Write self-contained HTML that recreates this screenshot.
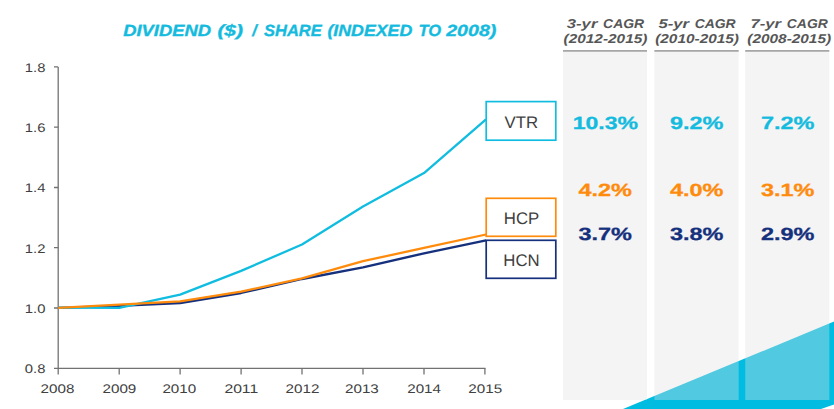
<!DOCTYPE html>
<html><head><meta charset="utf-8">
<style>
html,body{margin:0;padding:0;background:#fff;}
body{width:834px;height:409px;overflow:hidden;font-family:"Liberation Sans",sans-serif;}
svg{display:block;}
text{font-family:"Liberation Sans",sans-serif;text-rendering:geometricPrecision;}
</style></head><body>
<svg width="834" height="409" viewBox="0 0 834 409">
<rect width="834" height="409" fill="#fff"/>
<!-- triangle -->
<polygon points="623,409 834,321.6 834,404.6 821,409" fill="#00bce1"/>
<!-- columns -->
<g fill="#e0e0e0" fill-opacity="0.357">
<rect x="563" y="51" width="84" height="349"/>
<rect x="654.4" y="51" width="84.3" height="349"/>
<rect x="745.2" y="51" width="84.1" height="349"/>
</g>
<g stroke="#a6a6a6" stroke-width="1.8">
<line x1="563" y1="50.8" x2="647" y2="50.8"/>
<line x1="654.4" y1="50.8" x2="738.7" y2="50.8"/>
<line x1="745.2" y1="50.8" x2="829.3" y2="50.8"/>
</g>
<!-- title -->
<g font-size="16.2" font-weight="bold" font-style="italic" fill="#14bbde" stroke="#14bbde" stroke-width="0.35">
<text x="123.2" y="36" textLength="87.8" lengthAdjust="spacingAndGlyphs">DIVIDEND</text>
<text x="217.4" y="36" textLength="25.6" lengthAdjust="spacingAndGlyphs">($)</text>
<text x="252.3" y="36">/</text>
<text x="264.0" y="36" textLength="57.8" lengthAdjust="spacingAndGlyphs">SHARE</text>
<text x="327.4" y="36" textLength="84.9" lengthAdjust="spacingAndGlyphs">(INDEXED</text>
<text x="418.6" y="36" textLength="22.6" lengthAdjust="spacingAndGlyphs">TO</text>
<text x="446.2" y="36" textLength="50.2" lengthAdjust="spacingAndGlyphs">2008)</text>
</g>
<!-- headers -->
<g font-size="12.8" font-weight="bold" font-style="italic" fill="#565656">
<text x="566.8" y="28" textLength="30.6" lengthAdjust="spacingAndGlyphs">3-yr</text>
<text x="603.1" y="28" textLength="41" lengthAdjust="spacingAndGlyphs">CAGR</text>
<text x="563.6" y="42.8" textLength="83.8" lengthAdjust="spacingAndGlyphs">(2012-2015)</text>
<text x="658.4" y="28" textLength="30.6" lengthAdjust="spacingAndGlyphs">5-yr</text>
<text x="694.7" y="28" textLength="41" lengthAdjust="spacingAndGlyphs">CAGR</text>
<text x="655.2" y="42.8" textLength="83.8" lengthAdjust="spacingAndGlyphs">(2010-2015)</text>
<text x="750.5" y="28" textLength="30.6" lengthAdjust="spacingAndGlyphs">7-yr</text>
<text x="786.8" y="28" textLength="41" lengthAdjust="spacingAndGlyphs">CAGR</text>
<text x="747.3" y="42.8" textLength="83.8" lengthAdjust="spacingAndGlyphs">(2008-2015)</text>
</g>
<!-- axes -->
<g stroke="#727272" stroke-width="1.3" fill="none">
<path d="M58.2,66.9 V368.3 H485.5"/>
<path d="M54,66.9H58.2 M54,127.2H58.2 M54,187.5H58.2 M54,247.7H58.2 M54,308.0H58.2 M54,368.3H58.2"/>
<path d="M58.2,368.3V374.5 M119.2,368.3V374.5 M180.1,368.3V374.5 M241.1,368.3V374.5 M302.0,368.3V374.5 M363.0,368.3V374.5 M424.0,368.3V374.5 M484.9,368.3V374.5"/>
</g>
<!-- y labels -->
<g font-size="12.5" fill="#404040">
<text x="24.8" y="72" textLength="20.6" lengthAdjust="spacingAndGlyphs">1.8</text>
<text x="24.8" y="132.2" textLength="20.6" lengthAdjust="spacingAndGlyphs">1.6</text>
<text x="24.8" y="192.4" textLength="20.6" lengthAdjust="spacingAndGlyphs">1.4</text>
<text x="24.8" y="252.6" textLength="20.6" lengthAdjust="spacingAndGlyphs">1.2</text>
<text x="24.8" y="312.8" textLength="20.6" lengthAdjust="spacingAndGlyphs">1.0</text>
<text x="24.8" y="373" textLength="20.6" lengthAdjust="spacingAndGlyphs">0.8</text>
</g>
<!-- x labels -->
<g font-size="12.5" fill="#404040">
<text x="40.6" y="392.7" textLength="33.8" lengthAdjust="spacingAndGlyphs">2008</text>
<text x="102.5" y="392.7" textLength="33.8" lengthAdjust="spacingAndGlyphs">2009</text>
<text x="162.4" y="392.7" textLength="33.8" lengthAdjust="spacingAndGlyphs">2010</text>
<text x="224.4" y="392.7" textLength="33.8" lengthAdjust="spacingAndGlyphs">2011</text>
<text x="285.6" y="392.7" textLength="33.8" lengthAdjust="spacingAndGlyphs">2012</text>
<text x="345.0" y="392.7" textLength="33.8" lengthAdjust="spacingAndGlyphs">2013</text>
<text x="407.2" y="392.7" textLength="33.8" lengthAdjust="spacingAndGlyphs">2014</text>
<text x="468.3" y="392.7" textLength="33.8" lengthAdjust="spacingAndGlyphs">2015</text>
</g>
<!-- lines -->
<g fill="none" stroke-width="2.3" stroke-linejoin="round" stroke-linecap="butt">
<polyline stroke="#15307c" points="58.2,307.8 119.2,305.8 180.1,303 241.1,293 302.0,279 363.0,267.3 424.0,253.3 486,240.4"/>
<polyline stroke="#10bde0" points="58.2,307.6 119.2,307.9 180.1,294.6 241.1,270.9 302.0,244.5 363.0,206.6 424.0,173.1 486,119.4"/>
<polyline stroke="#ff8b0d" points="58.2,307.8 119.2,304.6 180.1,301.3 241.1,291.7 302.0,278.3 363.0,261.2 424.0,247.9 486,234.5"/>
</g>
<!-- boxes -->
<g fill="#fff" stroke-width="1.7">
<rect x="486.2" y="101.6" width="69.6" height="38.6" stroke="#10bde0"/>
<rect x="486.2" y="198.3" width="69.6" height="38" stroke="#ff8b0d"/>
<rect x="486.2" y="240.3" width="69.6" height="38" stroke="#15307c"/>
</g>
<g font-size="16.8" fill="#404040" text-anchor="middle">
<text x="521.3" y="127.8">VTR</text>
<text x="521.5" y="223.8">HCP</text>
<text x="521.5" y="265.9">HCN</text>
</g>
<!-- values -->
<g font-size="17.7" font-weight="bold">
<g fill="#14bbde" stroke="#14bbde" stroke-width="0.3">
<text x="572.7" y="128.5" textLength="65.4" lengthAdjust="spacingAndGlyphs">10.3%</text>
<text x="670" y="128.5" textLength="53.5" lengthAdjust="spacingAndGlyphs">9.2%</text>
<text x="761" y="128.5" textLength="53.5" lengthAdjust="spacingAndGlyphs">7.2%</text>
</g>
<g fill="#ff8b0d" stroke="#ff8b0d" stroke-width="0.3">
<text x="578.5" y="196.4" textLength="53.5" lengthAdjust="spacingAndGlyphs">4.2%</text>
<text x="670" y="196.4" textLength="53.5" lengthAdjust="spacingAndGlyphs">4.0%</text>
<text x="761" y="196.4" textLength="53.5" lengthAdjust="spacingAndGlyphs">3.1%</text>
</g>
<g fill="#15307c" stroke="#15307c" stroke-width="0.3">
<text x="578.5" y="240.2" textLength="53.5" lengthAdjust="spacingAndGlyphs">3.7%</text>
<text x="670" y="240.2" textLength="53.5" lengthAdjust="spacingAndGlyphs">3.8%</text>
<text x="761" y="240.2" textLength="53.5" lengthAdjust="spacingAndGlyphs">2.9%</text>
</g>
</g>
</svg>
</body></html>
